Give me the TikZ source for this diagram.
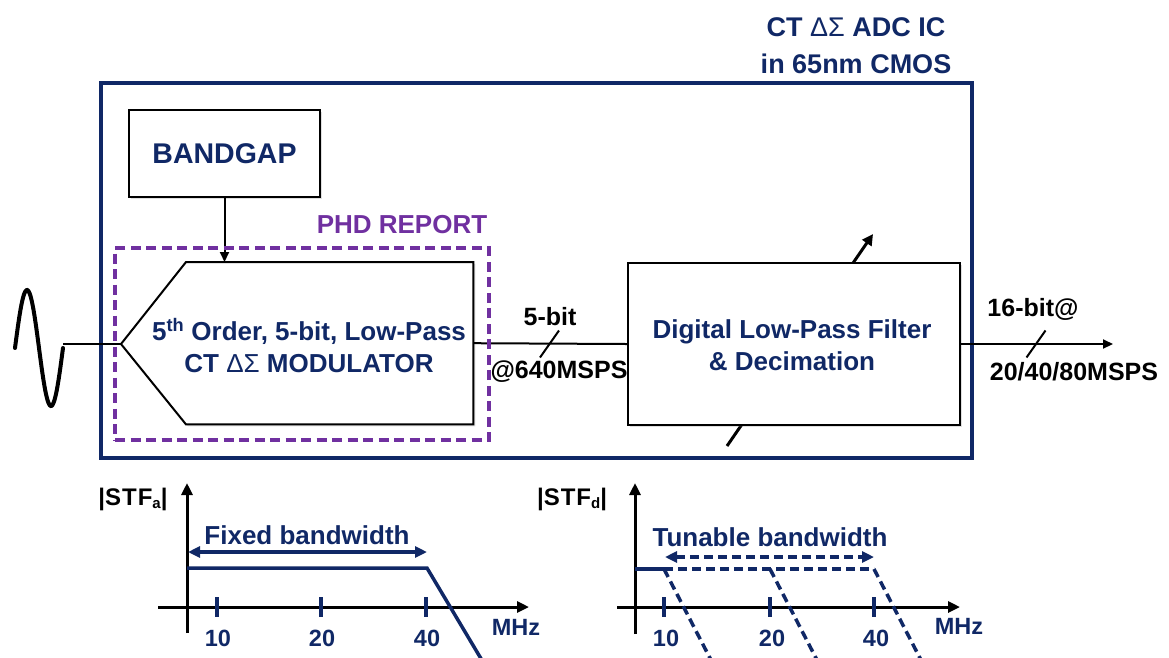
\documentclass[tikz,border=0pt]{standalone}
\usepackage{fontspec}
\setmainfont{Liberation Sans}
\usetikzlibrary{arrows.meta,calc,shadows}

\definecolor{navy}{RGB}{16,40,102}
\definecolor{phd}{RGB}{112,48,160}

\tikzset{
  blk/.style={draw=black, line width=2pt, fill=white,
    drop shadow={opacity=0.25, shadow xshift=2pt, shadow yshift=-2pt}},
  ntext/.style={font=\bfseries\fontsize{26}{32}\selectfont, text=navy, align=center, inner sep=0pt},
  ktext/.style={font=\bfseries\fontsize{25}{30}\selectfont, text=black, inner sep=0pt},
  small/.style={font=\bfseries\fontsize{23.5}{28}\selectfont, text=navy, inner sep=0pt},
  wire/.style={draw=black, line width=2pt},
  tipd/.style={-{Triangle[length=10pt,width=9pt]}},
  axis/.style={draw=black, line width=3pt, -{Triangle[length=12pt,width=11pt]}},
  resp/.style={draw=navy, line width=3.5pt},
  respdash/.style={draw=navy, line width=3.5pt, dash pattern=on 9pt off 5pt},
  tickmark/.style={draw=navy, line width=3.5pt},
  bwarrow/.style={draw=navy, line width=3.5pt, {Triangle[length=12pt,width=11pt]}-{Triangle[length=12pt,width=11pt]}},
}

\begin{document}
\begin{tikzpicture}[x=1pt,y=-1pt]
\useasboundingbox (0,0) rectangle (1169,657);

% ---- chip outline and title ----
\node[draw=navy, line width=3.5pt, minimum width=871pt, minimum height=375pt,
      anchor=north west, inner sep=0pt] (ic) at (99,81) {};
\node[ntext, font=\bfseries\fontsize{27}{37}\selectfont] (title) at (856,46)
  {CT {\mdseries ΔΣ} ADC IC\\in 65nm CMOS};

% ---- input sine source ----
\draw[line width=4pt, line cap=round] plot[smooth, domain=0:360, samples=60]
  ({15+\x/360*48}, {348-58*sin(\x)});
\coordinate (sigend) at (63,344);

% ---- band-gap reference ----
\node[blk, minimum width=191pt, minimum height=87pt, anchor=north west,
      inner sep=0pt, ntext, font=\bfseries\fontsize{28.5}{32}\selectfont]
  (bg) at (128,109) {BANDGAP};

% ---- modulator ----
\node[minimum width=287pt, minimum height=162pt, anchor=north west, inner sep=0pt]
  (mod) at (186,262) {};
\coordinate (modtip) at (121,344);
\draw[blk] (modtip) -- (mod.north west) -- (mod.north east)
  -- (mod.south east) -- (mod.south west) -- cycle;
\node[ntext] (modtxt) at (309,346)
  {5\textsuperscript{th} Order, 5-bit, Low-Pass\\CT {\mdseries ΔΣ} MODULATOR};

% ---- tuning arrow (passes behind the filter) ----
\coordinate (tunlo) at (727,446);
\coordinate (tunhi) at (873,234);
\draw[line width=3pt, -{Triangle[length=11pt,width=11pt]}] (tunlo) -- (tunhi);

% ---- digital filter ----
\node[blk, minimum width=332pt, minimum height=162pt, anchor=north west, inner sep=0pt]
  (dlpf) at (627,262) {};
\node[ntext] (dlpftxt) at (792,345) {Digital Low-Pass Filter\\\& Decimation};

% ---- connections ----
\draw[wire] (sigend) -- (modtip);
\draw[wire, tipd] (bg.south) -- (bg.south |- mod.north);
\draw[wire] (mod.east) -- (dlpf.west);
\coordinate (busmid) at (549.5,344);
\draw[wire] ($(busmid)+(-9.5,13.5)$) -- ($(busmid)+(9.5,-13.5)$);
\node[ktext] (bus1) at (550,317) {5-bit};
\node[ktext] (bus2) at (559,372) {@640MSPS};

\coordinate (out) at (1113,344);
\draw[wire, tipd] (dlpf.east) -- (out);
\coordinate (outmid) at (1036,344);
\draw[wire] ($(outmid)+(-9.5,13.5)$) -- ($(outmid)+(9.5,-13.5)$);
\node[ktext] (out1) at (1033,309) {16-bit@};
\node[ktext] (out2) at (1074,372) {20/40/80MSPS};

% ---- report boundary ----
\node[draw=phd, line width=4pt, dash pattern=on 10pt off 5.5pt,
      minimum width=374pt, minimum height=192pt, anchor=north west, inner sep=0pt]
  (phd) at (113,246) {};
\node[ntext, text=phd] (phdlbl) at (402,225) {PHD REPORT};

% ---- analog STF sketch ----
\draw[axis] (187,633) -- (187,483);
\draw[axis] (158,607) -- (529,607);
\foreach \t/\v in {217/10, 321/20, 426/40} {
  \draw[tickmark] (\t,597) -- (\t,617);
  \node[small] at (\t+1,638) {\v};
}
\node[small] (mhza) at (516,627) {MHz};
\draw[resp] (187,568) -- (427,568) -- (483,662);
\draw[bwarrow] (188,552) -- (427,552);
\node[ntext] (fixlbl) at (307,535) {Fixed bandwidth};
\node[ktext, font=\bfseries\fontsize{24}{28}\selectfont] (stfa) at (133,499)
  {|S\kern1ptT\kern1ptF\raisebox{-0.3ex}{\fontsize{15}{15}\selectfont a}|};

% ---- digital STF sketch ----
\draw[axis] (635,634) -- (635,483);
\draw[axis] (617,607) -- (960,607);
\foreach \t/\v in {664/10, 770/20, 874/40} {
  \draw[tickmark] (\t,597) -- (\t,617);
  \node[small] at (\t+2,638) {\v};
}
\node[small] (mhzd) at (959,626) {MHz};
\draw[resp] (635,569) -- (664,569);
\draw[respdash] (664,569) -- (874,569);
\draw[respdash] (664,569) -- (712,662);
\draw[respdash] (770,569) -- (818,662);
\draw[respdash] (874,569) -- (922,662);
\draw[bwarrow, dash pattern=on 9pt off 5pt] (665,557) -- (874,557);
\node[ntext] (tunlbl) at (770,537) {Tunable bandwidth};
\node[ktext, font=\bfseries\fontsize{24}{28}\selectfont] (stfd) at (572,499)
  {|S\kern1ptT\kern1ptF\raisebox{-0.3ex}{\fontsize{15}{15}\selectfont d}|};
\end{tikzpicture}
\end{document}
